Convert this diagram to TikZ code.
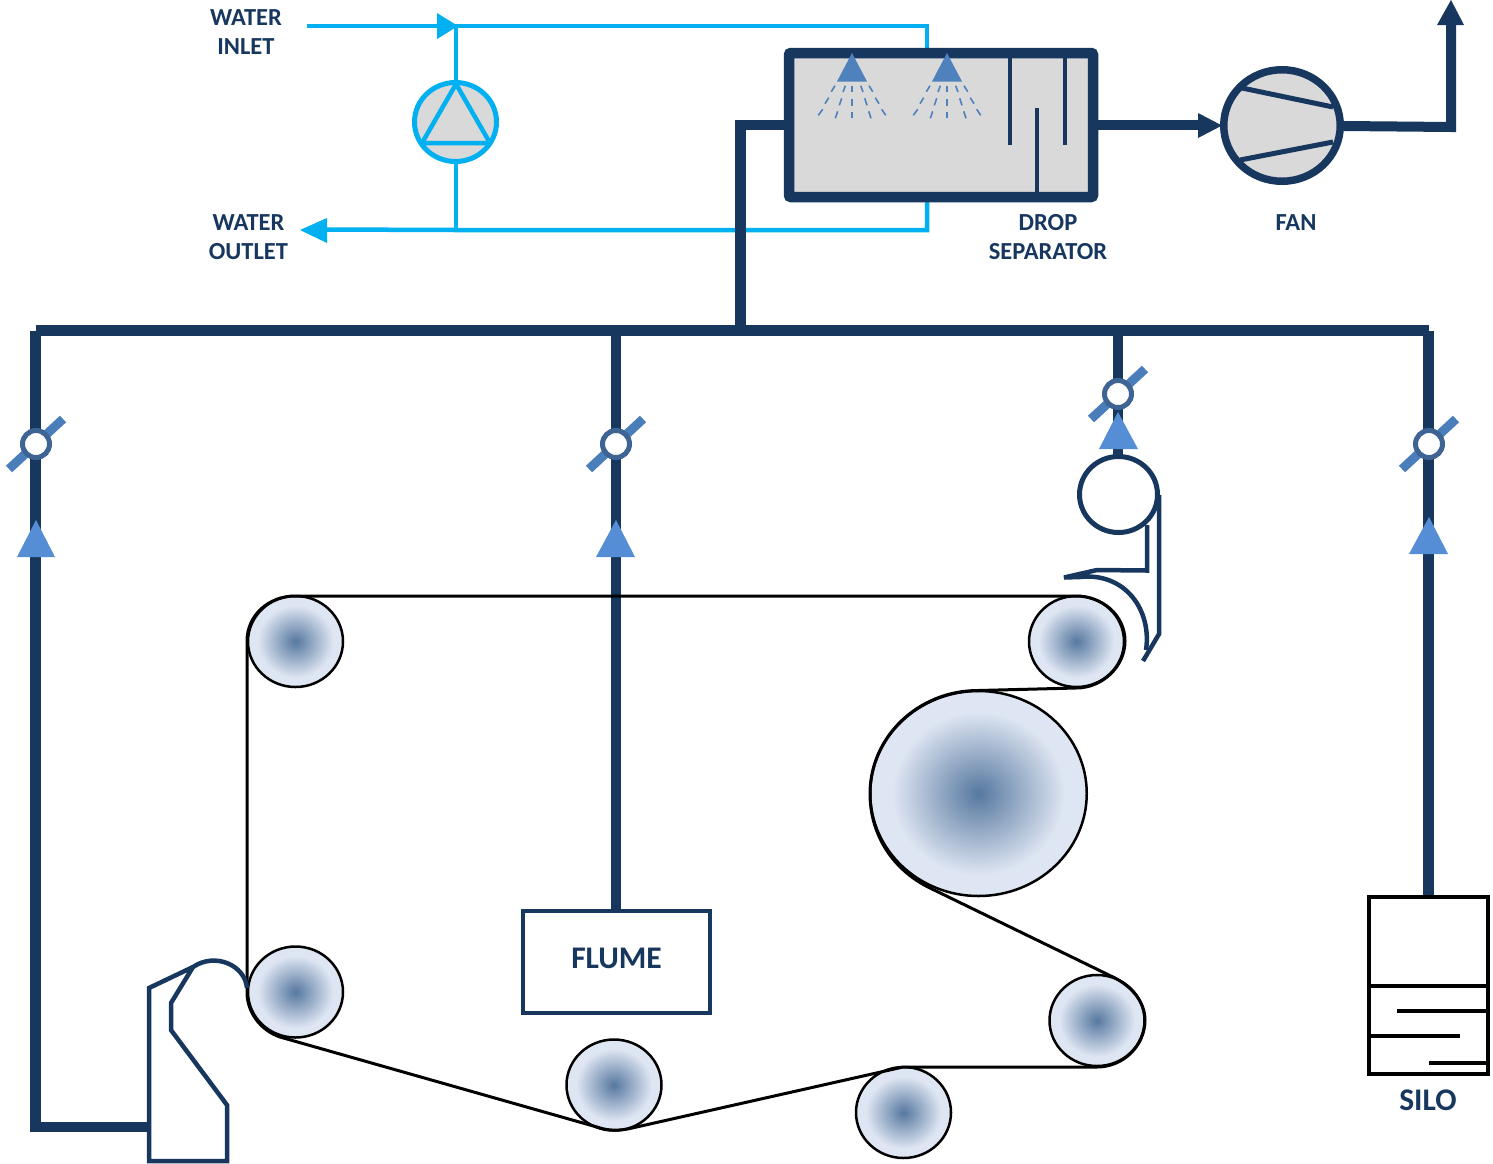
\documentclass[tikz,border=0pt]{standalone}
\usepackage{fontspec}
\usetikzlibrary{shapes.geometric}
\setmainfont{Carlito}
\definecolor{navy}{HTML}{17375E}
\definecolor{water}{HTML}{00B0F0}
\definecolor{greybox}{HTML}{D9D9D9}
\definecolor{tri}{HTML}{558ED5}
\definecolor{spray}{HTML}{4F81BD}
\definecolor{blade}{HTML}{4A7EBB}
\definecolor{ring}{HTML}{3E6494}
\definecolor{rinner}{HTML}{56789F}
\definecolor{router}{HTML}{DFE6F3}
\pgfdeclareradialshading{roller}{\pgfpoint{0bp}{0bp}}{color(0bp)=(rinner); color(20bp)=(router); color(50bp)=(router)}
\tikzset{
  rollernode/.style={ellipse,draw=black,line width=2.5pt,shading=roller,inner sep=0pt,minimum width=95pt,minimum height=91pt},
  duct/.style={draw=navy,line width=10.5pt},
  waterline/.style={draw=water,line width=4.5pt},
  lab/.style={text=navy,font=\fontsize{24.5}{29}\selectfont\bfseries,align=center,inner sep=0pt},
  biglab/.style={text=navy,font=\fontsize{31.5}{36}\selectfont\bfseries,align=center,inner sep=0pt},
  thin navy/.style={draw=navy,line width=4.5pt,line join=miter},
  tritip/.style={fill=tri},
  valvering/.style={circle,draw=ring,fill=white,line width=5pt,inner sep=0pt,minimum size=27pt},
  baffle/.style={draw=navy,line width=4pt},
  silo/.style={draw=black,line width=3.5pt},
  felt/.style={draw=black,line width=3pt,line join=round},
}
\begin{document}
\begin{tikzpicture}[x=1pt,y=-1pt]
\useasboundingbox (0,0) rectangle (1493,1163);
% ---- coordinates
\coordinate (in) at (307,26);
\coordinate (inJ) at (456,26);
\coordinate (inC) at (927,26);
\coordinate (inE) at (927,50);
\coordinate (outS) at (927,197);
\coordinate (outC) at (927,230);
\coordinate (outJ) at (456,230);
\coordinate (outE) at (325,229.5);
\coordinate (ductA) at (740.5,125);
\coordinate (ductB) at (740.5,330);
\coordinate (headL) at (36,330.5);
\coordinate (headR) at (1429,330.5);
\coordinate (headM) at (616,330.5);
\coordinate (headS) at (1118,330.5);
\coordinate (lowL) at (35.5,1127);
\coordinate (hbox) at (150,1127);
\coordinate (fanOut) at (1344,126);
\coordinate (stackB) at (1451,127);
\coordinate (stackT) at (1451,20);
% ---- water circuit
\draw[waterline,line join=miter] (in) -- (inC) -- (inE);
\draw[waterline,line join=miter] (outS) -- (outC) -- (outJ) -- (outE);
\draw[waterline] (inJ) -- (456,85);
\draw[waterline] (456,160) -- (outJ);
\fill[water] (437,13) -- (458,26) -- (437,39) -- cycle;
\fill[water] (300,230) -- (327,218) -- (327,243) -- cycle;
\node[ellipse,draw=water,fill=greybox,line width=5pt,inner sep=0pt,minimum width=82pt,minimum height=79pt] (pump) at (455.5,122) {};
\draw[draw=water,line width=4.5pt,line join=round] (456,84) -- (490,143) -- (422,143) -- cycle;
% ---- ducts
\draw[duct,line join=miter] (789,125) -- (ductA) -- (ductB);
\draw[duct] (headL) -- (headR);
\draw[duct,line join=miter] (35.5,331) -- (lowL) -- (hbox);
\draw[duct] (headM) -- (616,910);
\draw[duct] (headS) -- (1118,458);
\draw[duct] (1428.5,331) -- (1428.5,897);
% ---- scrubber
\node[draw=navy,fill=greybox,line width=10.5pt,rounded corners=2pt,minimum width=304pt,minimum height=144pt,inner sep=0pt] (scrub) at (941,125) {};
\foreach \cx in {852,947}{
  \fill[fill=spray] (\cx,53) -- (\cx+15,81.5) -- (\cx-15,81.5) -- cycle;
  \foreach \a/\b/\c/\d in {-17/85.7/-20.7/91.7,-6.7/85.7/-9/92,0/85.7/0/92,8.7/85.7/11/92,17/85.7/20.7/91.7,
     -23.3/97.7/-27/103.7,-10.3/98.3/-12.7/105.3,0/99/0/106,12.7/98.3/15/105.3,23.3/97.7/27/103.7,
     -29.3/109.3/-33.7/115.3,-14.3/111.3/-16.7/118.3,0/111.7/0/118.3,16.7/111.3/19/118.3,29.7/109.3/33.7/115.3}{
    \draw[draw=spray,line width=1.6pt] (\cx+\a,\b) -- (\cx+\c,\d);
  }
}
\draw[baffle] (1009.7,58) -- (1009.7,145);
\draw[baffle] (1065,58) -- (1065,145);
\draw[baffle] (1037,108) -- (1037,192);
% ---- fan
\node[ellipse,draw=navy,fill=greybox,line width=7.5pt,inner sep=0pt,minimum width=116.5pt,minimum height=111.5pt] (fan) at (1282,125.5) {};
\draw[draw=navy,line width=5pt] (1242,88) -- (1333,107);
\draw[draw=navy,line width=5pt] (1240,160) -- (1333,142);
\draw[draw=navy,line width=10pt] (scrub.east) -- (1200,125);
\fill[navy] (1198,113) -- (1222,125.5) -- (1198,138) -- cycle;
\draw[draw=navy,line width=10pt,line join=miter] (fanOut) -- (stackB) -- (stackT);
\fill[navy] (1451,0) -- (1464,25) -- (1437,25) -- cycle;
% ---- valves
\foreach \n/\x/\y in {a/36/444,b/616/444,d/1429/444,c/1118/394}{
  \draw[draw=blade,line width=9pt] (\x-27,\y+25) -- (\x+27,\y-25);
  \node[valvering] (valve\n) at (\x,\y) {};
}
\fill[tritip] (36,520) -- (55,557) -- (17,557) -- cycle;
\fill[tritip] (616,520) -- (635,557) -- (596,557) -- cycle;
\fill[tritip] (1429,517) -- (1448,554) -- (1409,554) -- cycle;
\fill[tritip] (1118,412) -- (1138,449) -- (1099,449) -- cycle;
% ---- rollers
\node[rollernode] (r1) at (295.5,641.5) {};
\node[rollernode] (r2) at (1076.5,641.5) {};
\node[rollernode,minimum width=216.5pt,minimum height=205pt] (r3) at (978.5,793.5) {};
\node[rollernode] (r4) at (1097,1020.5) {};
\node[rollernode] (r5) at (903.5,1112.5) {};
\node[rollernode] (r6) at (614,1085) {};
\node[rollernode] (r7) at (295.5,992) {};
% ---- felt
\draw[felt] (295,596) -- (1076,596)
  .. controls (1102,596) and (1125,615) .. (1125,641)
  .. controls (1125,667) and (1102,688) .. (1076,688)
  -- (978,690.5)
  .. controls (918,690.5) and (870,737) .. (870,793.5)
  .. controls (870,835) and (893,870) .. (930,888)
  -- (1115,978)
  .. controls (1132,987) and (1145,1002) .. (1145,1020)
  .. controls (1145,1046) and (1123,1067) .. (1097,1067)
  -- (903,1067) -- (632,1128)
  .. controls (620,1131) and (608,1131) .. (597,1127)
  -- (280,1037)
  .. controls (260,1030) and (247,1012) .. (247,992)
  -- (247,641)
  .. controls (247,615) and (269,596) .. (295,596) -- cycle;
% ---- suction box
\node[ellipse,draw=navy,fill=white,line width=5pt,inner sep=0pt,minimum width=78pt,minimum height=76pt] (couch) at (1118.5,494.5) {};
\draw[thin navy] (1159,495) -- (1159,634) -- (1143,661);
\draw[thin navy] (1146,650) .. controls (1152,610) and (1125,572) .. (1080,577) -- (1064,577.5) -- (1097,570) -- (1147,570.5) -- (1147,525);
% ---- headbox
\draw[thin navy] (247,988) .. controls (245,965) and (215,952) .. (193,967) -- (149,988) -- (149,1161) -- (227,1161) -- (227,1105) -- (171,1030) -- (171,1003) -- (193,967);
% ---- flume and silo
\node[draw=navy,fill=white,line width=4.5pt,minimum width=187pt,minimum height=102pt,inner sep=0pt] (flume) at (616.5,962) {};
\node[biglab] (flumeL) at (616.5,958) {FLUME};
\node[silo,fill=white,minimum width=119pt,minimum height=177pt,inner sep=0pt] (silobox) at (1428.5,985.5) {};
\draw[silo] (1369,986) -- (1488,986);
\draw[silo] (1397,1011) -- (1488,1011);
\draw[silo] (1369,1036) -- (1460,1036);
\draw[silo] (1429,1063) -- (1488,1063);
\node[biglab] (siloL) at (1428,1100) {SILO};
% ---- labels
\node[lab] (wi) at (246,32) {WATER\\INLET};
\node[lab] (wo) at (248.5,237) {WATER\\OUTLET};
\node[lab] (ds) at (1048,237) {DROP\\SEPARATOR};
\node[lab] (fl) at (1296,223) {FAN};
\end{tikzpicture}
\end{document}
